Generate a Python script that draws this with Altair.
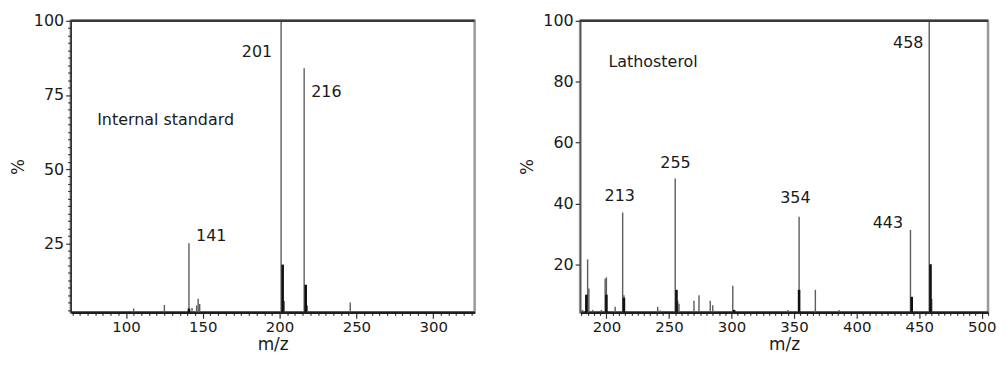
import altair as alt
import pandas as pd

# ---------------- data: Internal standard ----------------
LEFT_MZ = [105, 125, 141, 143, 146, 147, 148, 201, 203, 216, 218, 246]
LEFT_INT = [3.0, 4.2, 25.0, 3.2, 4.0, 6.3, 4.5, 100.0, 5.5, 84.0, 4.0, 5.0]
LEFT_DARK_MZ = [141, 202, 217]
LEFT_DARK_INT = [3.0, 17.8, 11.0]
LEFT_LABELS = ["201", "216", "141", "Internal standard"]
LEFT_LABEL_MZ = [185.3, 230.5, 155.5, 125.8]
LEFT_LABEL_Y = [89.4, 76.0, 27.3, 66.7]

# ---------------- data: Lathosterol ----------------
RIGHT_MZ = [181, 185, 186, 189, 196, 199, 200, 207, 213, 214, 241, 243, 255, 257,
            258, 270, 274, 283, 285, 301, 345, 354, 367, 386, 443, 458, 460]
RIGHT_INT = [5.0, 21.6, 12.0, 5.0, 5.0, 15.2, 15.7, 6.0, 37.0, 9.8, 6.0, 4.8, 48.2, 8.0,
             7.0, 8.0, 9.8, 8.0, 6.5, 12.9, 5.0, 35.6, 11.6, 5.0, 31.3, 100.0, 8.7]
RIGHT_DARK_MZ = [184, 200, 214, 256, 302, 354, 444, 459]
RIGHT_DARK_INT = [10.0, 10.0, 9.0, 11.6, 5.0, 11.6, 9.3, 20.0]
RIGHT_LABELS = ["458", "213", "255", "354", "443", "Lathosterol"]
RIGHT_LABEL_MZ = [441.2, 210.7, 255.2, 351.0, 425.0, 237.3]
RIGHT_LABEL_Y = [92.6, 42.3, 53.3, 41.7, 33.5, 86.5]

FONT = "DejaVu Sans"


def spectrum(mz, inten, dmz, dint, labels, lab_mz, lab_y, xdom, ydom,
             yvals, ymajor, width, height, ydomain_color):
    peaks = pd.DataFrame({"mz": mz, "int": inten})
    dark = pd.DataFrame({"mz": dmz, "int": dint})
    texts = pd.DataFrame({"mz": lab_mz, "int": lab_y, "label": labels})

    xs = alt.Scale(domain=xdom, nice=False, zero=False)
    ys = alt.Scale(domain=ydom, nice=False, zero=False)

    xvals = [v for v in range(0, 1000, 5) if xdom[0] <= v <= xdom[1]]
    x_axis = alt.Axis(
        values=xvals,
        labelExpr="datum.value % 50 === 0 ? datum.label : ''",
        tickSize={"condition": {"test": "datum.value % 50 === 0", "value": 6}, "value": 3},
        labelOverlap=False, grid=False, title="m/z",
        domainColor="#1e1e1e", domainWidth=2.5, tickColor="#333", tickWidth=1.2,
        labelFont=FONT, labelFontSize=15, labelColor="#1a1a1a", labelPadding=1,
        titleFont=FONT, titleFontSize=17, titleFontWeight="normal",
        titleColor="#1a1a1a", titlePadding=2,
    )
    test_y = "datum.value % " + str(ymajor) + " === 0"
    y_axis = alt.Axis(
        values=yvals,
        labelExpr=test_y + " ? datum.label : ''",
        tickSize={"condition": {"test": test_y, "value": 5}, "value": 3},
        labelOverlap=False, grid=False, title="%",
        domainColor=ydomain_color, domainWidth=1.5, tickColor="#333", tickWidth=1.2,
        labelFont=FONT, labelFontSize=16, labelColor="#1a1a1a", labelPadding=2,
        titleFont=FONT, titleFontSize=17, titleFontWeight="normal",
        titleColor="#1a1a1a", titlePadding=6,
    )

    X = alt.X("mz:Q", scale=xs, axis=x_axis)
    Y = alt.Y("int:Q", scale=ys, axis=y_axis)

    main = alt.Chart(peaks).mark_rule(color="#5c5c5c", strokeWidth=1.4).encode(
        x=X, y=Y, y2=alt.datum(ydom[0]),
    )
    stubs = alt.Chart(dark).mark_rule(color="#111111", strokeWidth=2.6).encode(
        x=X, y=Y, y2=alt.datum(ydom[0]),
    )
    top = alt.Chart(peaks).mark_rule(color="#3a3a3a", strokeWidth=2.5).encode(
        x=alt.XDatum(xdom[0], scale=xs, axis=x_axis), x2=alt.datum(xdom[1]),
        y=alt.YDatum(100, scale=ys, axis=y_axis),
    ).transform_filter("datum.int >= 100")
    txt = alt.Chart(texts).mark_text(font=FONT, fontSize=16, color="#1a1a1a").encode(
        x=X, y=Y, text="label:N",
    )
    return alt.layer(main, stubs, top, txt).properties(width=width, height=height)


left = spectrum(LEFT_MZ, LEFT_INT, LEFT_DARK_MZ, LEFT_DARK_INT,
                LEFT_LABELS, LEFT_LABEL_MZ, LEFT_LABEL_Y,
                [64, 327], [1.7, 100],
                [2.5 * k for k in range(1, 41)], 25, 406, 293, "#2a2a2a")
right = spectrum(RIGHT_MZ, RIGHT_INT, RIGHT_DARK_MZ, RIGHT_DARK_INT,
                 RIGHT_LABELS, RIGHT_LABEL_MZ, RIGHT_LABEL_Y,
                 [179, 505], [4.2, 100],
                 [20, 40, 60, 80, 100], 20, 410, 293, "#555555")

chart = alt.hconcat(left, right, spacing=40).properties(
    padding={"left": 0, "top": 2, "right": 0, "bottom": 0}
).configure_view(stroke="#9a9a9a", strokeWidth=2.5)

chart.save("out.html", embed_options={"renderer": "svg", "actions": False})
